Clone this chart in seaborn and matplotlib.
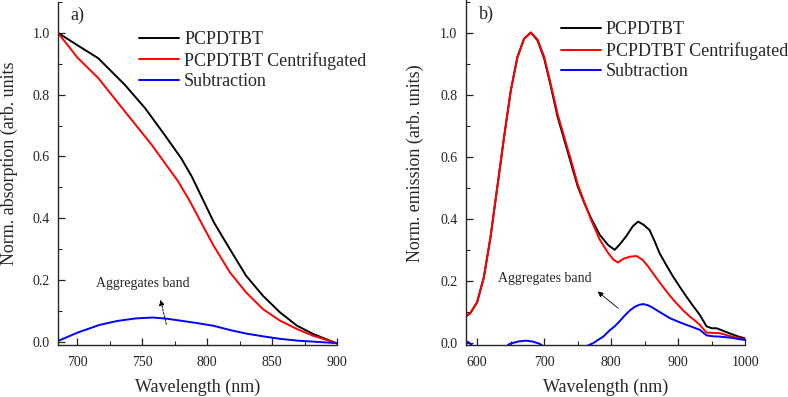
import matplotlib
matplotlib.use('Agg')
import matplotlib.pyplot as plt
import seaborn as sns
import numpy as np
import pandas as pd
from matplotlib.ticker import MultipleLocator, AutoMinorLocator

# ---- panel a) absorption ----
abs_wl_pristine = [685, 700, 716, 736.5, 752, 767, 780, 788, 794, 805, 817.5, 830, 843, 856, 869, 881.5, 897, 900]
abs_pristine = [1.0, 0.96, 0.918, 0.832, 0.757, 0.671, 0.594, 0.536, 0.484, 0.388, 0.30, 0.214, 0.149, 0.096,
                0.053, 0.026, 0.0, -0.005]
abs_wl_centrif = [685, 700, 716, 736.5, 757, 777.5, 786, 794, 805, 817.5, 830, 843, 856, 869, 881.5, 897, 900]
abs_centrif = [1.0, 0.92, 0.854, 0.746, 0.639, 0.52, 0.46, 0.397, 0.311, 0.225, 0.16, 0.106, 0.069, 0.042,
               0.02, 0.0, -0.005]
abs_wl_sub = [685, 700, 717, 731, 745, 758, 769, 779, 792, 805, 818, 830, 843, 856, 870, 885, 900]
abs_sub = [0.003, 0.03, 0.055, 0.068, 0.076, 0.079, 0.075, 0.069, 0.061, 0.052, 0.038, 0.027, 0.018, 0.01,
           0.004, 0.0, -0.004]

# ---- panel b) emission ----
em_wl_pristine = [583, 590, 600, 610, 620, 630, 640, 650, 660, 670, 680, 690, 700, 710, 720, 730, 740, 750,
                  760, 770, 783, 795, 805, 812, 822, 832, 840, 848, 857, 865, 872, 882, 892, 902, 912, 922,
                  932, 942, 950, 957, 970, 982, 990, 1000]
em_pristine = [0.084, 0.095, 0.13, 0.21, 0.34, 0.50, 0.66, 0.81, 0.92, 0.98, 1.0, 0.975, 0.916, 0.825, 0.728,
               0.653, 0.578, 0.503, 0.449, 0.40, 0.347, 0.315, 0.299, 0.315, 0.342, 0.375, 0.39, 0.38, 0.363,
               0.325, 0.288, 0.25, 0.213, 0.18, 0.148, 0.118, 0.089, 0.052, 0.046, 0.046, 0.035, 0.025,
               0.019, 0.013]
em_wl_centrif = [583, 590, 600, 610, 620, 630, 640, 650, 660, 670, 680, 690, 700, 710, 720, 730, 740, 750,
                 760, 770, 783, 795, 803, 810, 818, 828, 838, 847, 855, 862, 870, 877, 887, 897, 907, 917,
                 925, 932, 942, 952, 962, 975, 990, 1000]
em_centrif = [0.084, 0.095, 0.13, 0.21, 0.34, 0.50, 0.66, 0.81, 0.92, 0.98, 1.0, 0.978, 0.922, 0.832, 0.737,
              0.662, 0.588, 0.51, 0.452, 0.395, 0.331, 0.29, 0.268, 0.258, 0.27, 0.277, 0.279, 0.266, 0.245,
              0.224, 0.2, 0.18, 0.152, 0.127, 0.104, 0.084, 0.07, 0.057, 0.032, 0.031, 0.03, 0.022, 0.014,
              0.009]
em_wl_sub = [583, 588, 595, 620, 640, 648, 654, 663, 673, 683, 693, 705, 740, 765, 773, 780, 788, 798, 805,
             813, 820, 828, 835, 842, 848, 855, 862, 867, 877, 887, 900, 912, 922, 932, 942, 952, 962, 980,
             990, 1000]
em_sub = [0.004, 0.0, -0.015, -0.03, -0.02, -0.005, -0.001, 0.004, 0.006, 0.003, -0.004, -0.02, -0.03, -0.01,
          -0.002, 0.008, 0.019, 0.04, 0.052, 0.07, 0.087, 0.104, 0.115, 0.122, 0.124, 0.12, 0.112, 0.105,
          0.092, 0.079, 0.067, 0.057, 0.049, 0.041, 0.023, 0.02, 0.019, 0.015, 0.011, 0.008]

labels = ['PCPDTBT', 'PCPDTBT Centrifugated', 'Subtraction']
colors = ['black', 'red', 'blue']

sns.set_style('ticks')
plt.rcParams['font.family'] = ['Liberation Serif', 'DejaVu Serif']
plt.rcParams['xtick.direction'] = 'in'
plt.rcParams['ytick.direction'] = 'in'

fig = plt.figure(figsize=(7.88, 3.97), dpi=100)
ax1 = fig.add_axes([0.0736, 0.131, 0.354, 0.864])
ax2 = fig.add_axes([0.591, 0.131, 0.355, 0.869])

series_a = [(abs_wl_pristine, abs_pristine), (abs_wl_centrif, abs_centrif), (abs_wl_sub, abs_sub)]
series_b = [(em_wl_pristine, em_pristine), (em_wl_centrif, em_centrif), (em_wl_sub, em_sub)]

for ax, series in [(ax1, series_a), (ax2, series_b)]:
    for (x, y), lab, c in zip(series, labels, colors):
        sns.lineplot(x=x, y=y, ax=ax, color=c, label=lab, lw=1.4, sort=False)
    sns.despine(ax=ax)
    ax.yaxis.set_major_locator(MultipleLocator(0.2))
    ax.yaxis.set_minor_locator(AutoMinorLocator(2))
    ax.xaxis.set_minor_locator(AutoMinorLocator(2))
    ax.tick_params(which='major', length=5, width=0.9, labelsize=10, pad=6, colors='#222222')
    ax.tick_params(axis='x', which='major', pad=8)
    ax.tick_params(which='minor', length=3, width=0.8)
    for s in ax.spines.values():
        s.set_linewidth(1.0)
    ax.set_xlabel('Wavelength (nm)', fontsize=13, labelpad=7)
    ax.set_ylabel('')

ax1.set_xlim(685, 900)
ax1.set_ylim(-0.01, 1.1)
ax1.xaxis.set_major_locator(MultipleLocator(50))
ax2.set_xlim(583, 1000)
ax2.set_ylim(-0.008, 1.105)
ax2.xaxis.set_major_locator(MultipleLocator(100))

for ax in (ax1, ax2):
    ax.set_yticks(np.arange(0, 1.01, 0.2))
    ax.set_yticklabels([f'{v:.1f}' for v in np.arange(0, 1.01, 0.2)])

fig.text(9 / 788, 1 - 265 / 397, 'Norm. absorption (arb. units', rotation=90,
         ha='center', va='bottom', fontsize=13)
fig.text(415 / 788, 1 - 163 / 397, 'Norm. emission (arb. units)', rotation=90,
         ha='center', va='center', fontsize=13)

ax1.legend(loc='upper left', bbox_to_anchor=(0.29, 0.915), frameon=False, fontsize=13,
           handlelength=2.2, handletextpad=0.3, labelspacing=0.2, borderpad=0, borderaxespad=0)
ax2.legend(loc='upper left', bbox_to_anchor=(0.34, 0.938), frameon=False, fontsize=13,
           handlelength=2.2, handletextpad=0.3, labelspacing=0.2, borderpad=0, borderaxespad=0)

ax1.text(0.043, 0.962, 'a)', transform=ax1.transAxes, fontsize=13, va='center')
ax2.text(0.047, 0.957, 'b)', transform=ax2.transAxes, fontsize=13, va='center')

ax1.text(750.5, 0.19, 'Aggregates band', fontsize=10, ha='center', va='center')
ax1.annotate('', xy=(763.5, 0.145), xytext=(769, 0.048),
             arrowprops=dict(arrowstyle='-|>', linestyle=(0, (2, 1.5)), lw=0.7, color='black',
                             mutation_scale=8))
ax2.text(701, 0.208, 'Aggregates band', fontsize=10, ha='center', va='center')
ax2.annotate('', xy=(776.4, 0.17), xytext=(813.6, 0.105),
             arrowprops=dict(arrowstyle='-|>', lw=0.6, color='black', mutation_scale=8))

fig.savefig('out.png', dpi=100)
plt.close(fig)
